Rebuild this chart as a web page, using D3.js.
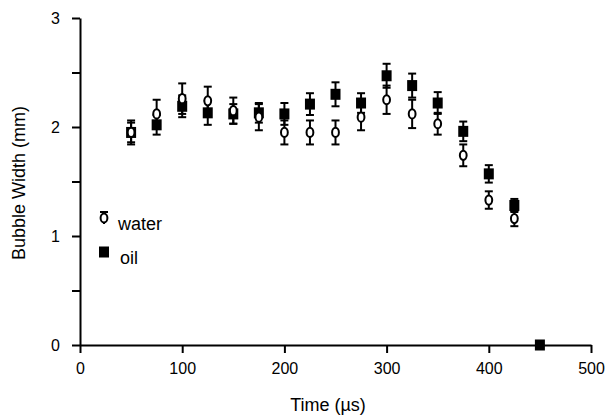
<!DOCTYPE html>
<html>
<head>
<meta charset="utf-8">
<script src="https://cdn.jsdelivr.net/npm/d3@7"></script>
<style>
  body { margin: 0; background: #fff; }
  text { font-family: "Liberation Sans", Arial, sans-serif; fill: #000; }
</style>
</head>
<body>
<div id="chart"></div>
<script>
const times = [50, 75, 100, 125, 150, 175, 200, 225, 250, 275, 300, 325, 350, 375, 400, 425];
const waterWidth = [1.95, 2.12, 2.26, 2.24, 2.15, 2.09, 1.95, 1.95, 1.95, 2.09, 2.25, 2.12, 2.03, 1.74, 1.33, 1.16];
const waterErr = [0.11, 0.13, 0.14, 0.13, 0.12, 0.12, 0.11, 0.11, 0.11, 0.12, 0.13, 0.13, 0.10, 0.10, 0.08, 0.07];
const oilTimes = [50, 75, 100, 125, 150, 175, 200, 225, 250, 275, 300, 325, 350, 375, 400, 425, 450];
const oilWidth = [1.95, 2.02, 2.19, 2.13, 2.12, 2.13, 2.12, 2.21, 2.30, 2.22, 2.47, 2.38, 2.22, 1.96, 1.57, 1.28, 0];
const oilErr = [0.09, 0.09, 0.10, 0.11, 0.09, 0.09, 0.10, 0.10, 0.11, 0.09, 0.11, 0.11, 0.10, 0.09, 0.08, 0.06, 0];
const xTicks = [0, 100, 200, 300, 400, 500];
const yTicks = [0, 0.5, 1, 1.5, 2, 2.5, 3];

const W = 607, H = 417;
const svg = d3.select("#chart").append("svg")
  .attr("width", W).attr("height", H);

const x = d3.scaleLinear().domain([0, 500]).range([80, 591]);
const y = d3.scaleLinear().domain([0, 3]).range([345, 18]);

// axes
const gx = svg.append("g")
  .attr("transform", `translate(0,${y(0)})`)
  .call(d3.axisBottom(x).tickValues(xTicks).tickSize(8).tickSizeOuter(0).tickPadding(10));
const gy = svg.append("g")
  .attr("transform", `translate(${x(0)},0)`)
  .call(d3.axisLeft(y).tickValues(yTicks).tickSize(8).tickSizeOuter(0).tickPadding(12)
    .tickFormat(d => Number.isInteger(d) ? d : ""));
[gx, gy].forEach(g => {
  g.selectAll("path, line").attr("stroke", "#000").attr("stroke-width", 2);
  g.selectAll("text").style("font-size", "16px").style("font-family", "'Liberation Sans', Arial, sans-serif");
});

svg.append("text")
  .attr("x", 328).attr("y", 411)
  .attr("text-anchor", "middle")
  .style("font-size", "18px")
  .text("Time (\u00b5s)");
svg.append("text")
  .attr("transform", "translate(25,183) rotate(-90)")
  .attr("text-anchor", "middle")
  .style("font-size", "18px")
  .text("Bubble Width (mm)");

function errorBars(xs, vs, es) {
  const g = svg.append("g").attr("stroke", "#000").attr("stroke-width", 2);
  xs.forEach((t, i) => {
    if (!es[i]) return;
    const cx = x(t), y1 = y(vs[i] + es[i]), y2 = y(vs[i] - es[i]);
    g.append("line").attr("x1", cx).attr("x2", cx).attr("y1", y1).attr("y2", y2);
    g.append("line").attr("x1", cx - 4).attr("x2", cx + 4).attr("y1", y1).attr("y2", y1);
    g.append("line").attr("x1", cx - 4).attr("x2", cx + 4).attr("y1", y2).attr("y2", y2);
  });
}

// oil (filled squares) first
errorBars(oilTimes, oilWidth, oilErr);
svg.append("g").selectAll("rect")
  .data(oilTimes)
  .join("rect")
  .attr("x", d => x(d) - 5)
  .attr("y", (d, i) => y(oilWidth[i]) - 5.5)
  .attr("width", 10).attr("height", 11)
  .attr("fill", "#000");

// water (open circles)
errorBars(times, waterWidth, waterErr);
svg.append("g").selectAll("ellipse")
  .data(times)
  .join("ellipse")
  .attr("cx", d => x(d))
  .attr("cy", (d, i) => y(waterWidth[i]))
  .attr("rx", 3.4).attr("ry", 4.6)
  .attr("fill", "#fff").attr("stroke", "#000").attr("stroke-width", 2);

// legend
const lg = svg.append("g");
lg.append("line").attr("x1", 104).attr("x2", 104).attr("y1", 212).attr("y2", 224)
  .attr("stroke", "#000").attr("stroke-width", 2);
lg.append("line").attr("x1", 100).attr("x2", 108).attr("y1", 212).attr("y2", 212)
  .attr("stroke", "#000").attr("stroke-width", 2);
lg.append("ellipse").attr("cx", 104).attr("cy", 218).attr("rx", 3.4).attr("ry", 4.6)
  .attr("fill", "#fff").attr("stroke", "#000").attr("stroke-width", 2);
lg.append("text").attr("x", 118).attr("y", 230).style("font-size", "18px").text("water");
lg.append("rect").attr("x", 99).attr("y", 246.5).attr("width", 10).attr("height", 11).attr("fill", "#000");
lg.append("text").attr("x", 120).attr("y", 264).style("font-size", "18px").text("oil");
</script>
</body>
</html>
